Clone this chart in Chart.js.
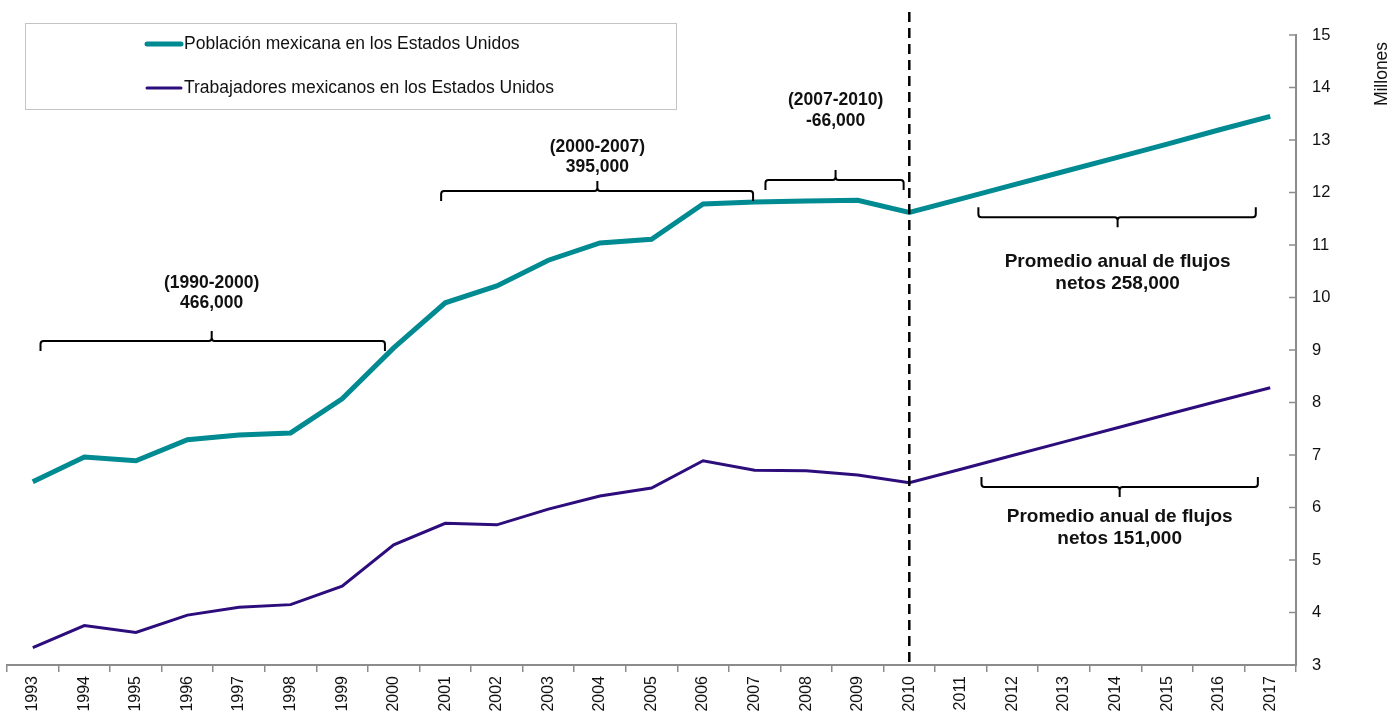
<!DOCTYPE html>
<html>
<head>
<meta charset="utf-8">
<script src="https://cdn.jsdelivr.net/npm/chart.js@4/dist/chart.umd.min.js"></script>
<style>
  body { margin: 0; background: #fff; }
  #wrap { width: 1400px; height: 715px; position: relative; }
</style>
</head>
<body>
<div id="wrap"><canvas id="chart"></canvas></div>
<script>
const years = ['1993', '1994', '1995', '1996', '1997', '1998', '1999', '2000', '2001', '2002', '2003', '2004', '2005',
               '2006', '2007', '2008', '2009', '2010', '2011', '2012', '2013', '2014', '2015', '2016', '2017'];

// millones
const poblacion = [6.49, 6.96, 6.89, 7.29, 7.38, 7.42, 8.07, 9.04, 9.90, 10.22, 10.71, 11.04, 11.11,
                   11.78, 11.82, 11.84, 11.85, 11.62, 11.88, 12.14, 12.40, 12.66, 12.92, 13.19, 13.45];
const trabajadores = [3.33, 3.75, 3.62, 3.95, 4.10, 4.15, 4.50, 5.29, 5.70, 5.67, 5.97, 6.22, 6.37,
                      6.89, 6.71, 6.70, 6.62, 6.47, 6.73, 6.99, 7.25, 7.51, 7.77, 8.03, 8.28];

const seriesNames = ['Población mexicana en los Estados Unidos', 'Trabajadores mexicanos en los Estados Unidos'];
const yTicks = [3, 15, 1]; // min, max, step

// llaves: desde / hasta / centro (indice de año), nivel (millones), sentido, textos y su nivel
const brackets = [
  { from: 0.15, to: 6.83, mid: 3.47, y: 9.17, up: true, text: ['(1990-2000)', '466,000'], textY: [10.28, 9.90] },
  { from: 7.92, to: 13.97, mid: 10.95, y: 12.03, up: true, text: ['(2000-2007)', '395,000'], textY: [12.87, 12.49] },
  { from: 14.21, to: 16.89, mid: 15.57, y: 12.24, up: true, text: ['(2007-2010)', '-66,000'], textY: [13.76, 13.36] },
  { from: 18.34, to: 23.72, mid: 21.04, y: 11.53, up: false, text: ['Promedio anual de flujos', 'netos 258,000'], textY: [10.68, 10.26] },
  { from: 18.40, to: 23.76, mid: 21.08, y: 6.39, up: false, text: ['Promedio anual de flujos', 'netos 151,000'], textY: [5.82, 5.40] }
];
const splitYear = '2010';

const CYAN = '#008a91';
const PURPLE = '#2d0c7c';
const AXIS = '#8c8c8c';
const FONT = '"Liberation Sans", Arial, sans-serif';

const extras = {
  id: 'extras',
  afterDatasetsDraw(chart) {
    const ctx = chart.ctx;
    const x = chart.scales.x, y = chart.scales.y;
    const area = chart.chartArea;

    // linea vertical punteada
    const xs = x.getPixelForValue(years.indexOf(splitYear));
    ctx.save();
    ctx.strokeStyle = '#000';
    ctx.lineWidth = 2.5;
    ctx.setLineDash([10, 6]);
    ctx.beginPath();
    ctx.moveTo(xs, y.getPixelForValue(15.44));
    ctx.lineTo(xs, area.bottom);
    ctx.stroke();
    ctx.restore();

    // llaves
    ctx.save();
    ctx.strokeStyle = '#000';
    ctx.lineWidth = 2;
    ctx.fillStyle = '#111';
    ctx.textAlign = 'center';
    ctx.textBaseline = 'middle';
    brackets.forEach(b => {
      const x1 = x.getPixelForValue(b.from), x2 = x.getPixelForValue(b.to), xm = x.getPixelForValue(b.mid);
      const yy = y.getPixelForValue(b.y);
      const s = b.up ? 1 : -1;
      const r = 3;
      ctx.beginPath();
      ctx.moveTo(x1, yy + s * 10);
      ctx.lineTo(x1, yy + s * r);
      ctx.quadraticCurveTo(x1, yy, x1 + r, yy);
      ctx.lineTo(xm - r, yy);
      ctx.quadraticCurveTo(xm, yy, xm, yy - s * r);
      ctx.lineTo(xm, yy - s * 10);
      ctx.moveTo(xm, yy - s * r);
      ctx.quadraticCurveTo(xm, yy, xm + r, yy);
      ctx.lineTo(x2 - r, yy);
      ctx.quadraticCurveTo(x2, yy, x2, yy + s * r);
      ctx.lineTo(x2, yy + s * 10);
      ctx.stroke();
      ctx.font = 'bold ' + (b.up ? 17.5 : 19) + 'px ' + FONT;
      b.text.forEach((t, i) => ctx.fillText(t, xm, y.getPixelForValue(b.textY[i])));
    });
    ctx.restore();

    // marcas del eje y hacia dentro
    ctx.save();
    ctx.strokeStyle = AXIS;
    ctx.lineWidth = 1.5;
    for (let v = yTicks[0]; v <= yTicks[1]; v += yTicks[2]) {
      const py = y.getPixelForValue(v);
      ctx.beginPath();
      ctx.moveTo(area.right - 7, py);
      ctx.lineTo(area.right, py);
      ctx.stroke();
    }
    ctx.restore();

    // leyenda
    ctx.save();
    ctx.strokeStyle = '#c4c4c4';
    ctx.lineWidth = 1;
    ctx.strokeRect(25.5, 23.5, 651, 86);
    ctx.lineCap = 'round';
    [[CYAN, 5, 44], [PURPLE, 3, 88]].forEach((d, i) => {
      ctx.strokeStyle = d[0];
      ctx.lineWidth = d[1];
      ctx.beginPath();
      ctx.moveTo(147, d[2]);
      ctx.lineTo(181, d[2]);
      ctx.stroke();
      ctx.fillStyle = '#111';
      ctx.font = '17.5px ' + FONT;
      ctx.textBaseline = 'middle';
      ctx.fillText(seriesNames[i], 184, d[2]);
    });
    ctx.restore();

    // titulo del eje
    ctx.save();
    ctx.translate(1382, 74);
    ctx.rotate(-Math.PI / 2);
    ctx.fillStyle = '#111';
    ctx.font = '17.5px ' + FONT;
    ctx.textAlign = 'center';
    ctx.textBaseline = 'middle';
    ctx.fillText('Millones', 0, 0);
    ctx.restore();
  }
};

new Chart(document.getElementById('chart'), {
  type: 'line',
  data: {
    labels: years,
    datasets: [
      { label: seriesNames[0], data: poblacion, borderColor: CYAN, borderWidth: 5, pointRadius: 0, tension: 0 },
      { label: seriesNames[1], data: trabajadores, borderColor: PURPLE, borderWidth: 3, pointRadius: 0, tension: 0 }
    ]
  },
  options: {
    responsive: true,
    maintainAspectRatio: false,
    animation: false,
    layout: { padding: { top: 35, left: 7, right: 0, bottom: 0 } },
    plugins: { legend: { display: false }, tooltip: { enabled: false } },
    scales: {
      x: {
        offset: true,
        grid: { display: true, drawOnChartArea: false, offset: true, color: AXIS, tickLength: 7, lineWidth: 1.5 },
        border: { color: AXIS, width: 2 },
        ticks: { autoSkip: false, minRotation: 90, maxRotation: 90, padding: 4, color: '#111', font: { family: FONT, size: 16 } },
        afterFit: s => { s.height = 50; }
      },
      y: {
        position: 'right',
        min: yTicks[0],
        max: yTicks[1],
        ticks: { stepSize: yTicks[2], padding: 16, color: '#111', font: { family: FONT, size: 16.5 } },
        grid: { drawOnChartArea: false, drawTicks: false },
        border: { color: AXIS, width: 2 },
        afterFit: s => { s.width = 104; }
      }
    }
  },
  plugins: [extras]
});
</script>
</body>
</html>
